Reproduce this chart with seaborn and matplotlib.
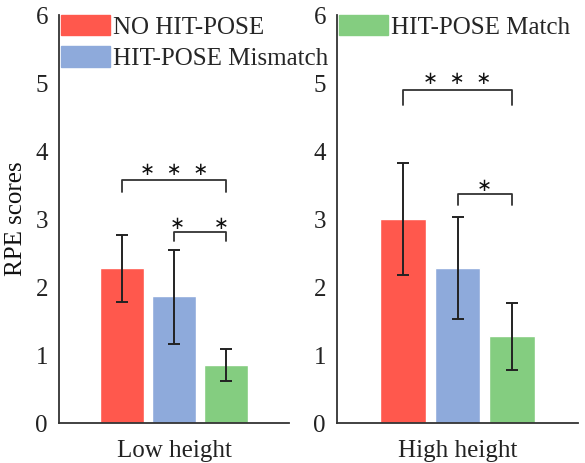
import numpy as np
import pandas as pd
import matplotlib
matplotlib.use("Agg")
import matplotlib.pyplot as plt
import seaborn as sns

groups = ["Low height", "High height"]
conditions = ["NO HIT-POSE", "HIT-POSE Mismatch", "HIT-POSE Match"]
low_means = [2.28, 1.87, 0.85]
low_lower = [1.78, 1.16, 0.62]
low_upper = [2.77, 2.55, 1.09]
high_means = [3.00, 2.28, 1.28]
high_lower = [2.18, 1.53, 0.78]
high_upper = [3.82, 3.03, 1.77]
colors = ["#FF584D", "#8EAADB", "#84CD80"]
yticks = [0, 1, 2, 3, 4, 5, 6]

sns.set_theme(style="ticks")
plt.rcParams["font.family"] = ["Liberation Serif", "DejaVu Serif"]

fig = plt.figure(figsize=(5.85, 4.63), dpi=100)
ax1 = fig.add_axes([59/585, 1-423/463, (289-59)/585, (423-15)/463])
ax2 = fig.add_axes([337/585, 1-423/463, (578-337)/585, (423-15)/463])

palette = dict(zip(conditions, colors))

def panel(ax, group, means, lower, upper, legend_conds):
    df = pd.DataFrame({"group": [group]*3, "condition": conditions, "score": means})
    sns.barplot(data=df, x="group", y="score", hue="condition", hue_order=conditions,
                palette=palette, errorbar=None, gap=0.17, ax=ax, legend=False,
                saturation=1)
    bars = sorted(ax.patches, key=lambda p: p.get_x())
    centers = [b.get_x() + b.get_width()/2 for b in bars]
    m = np.array(means)
    yerr = np.array([m - np.array(lower), np.array(upper) - m])
    ax.errorbar(centers, m, yerr=yerr, fmt="none", ecolor="#222222",
                elinewidth=1.4, capsize=4, capthick=1.4, zorder=5)
    ax.set_ylim(0, 6)
    ax.set_yticks(yticks)
    ax.set_xlim(-0.59, 0.59)
    ax.set_xlabel("")
    ax.set_ylabel("")
    sns.despine(ax=ax)
    for s in ["left", "bottom"]:
        ax.spines[s].set_color("#333333")
        ax.spines[s].set_linewidth(1.3)
    ax.tick_params(axis="both", direction="in", labelsize=18, colors="#222222",
                   length=4, width=1.2, pad=6)
    ax.tick_params(axis="x", pad=12)
    ax.tick_params(axis="y", length=0, pad=8)
    handles = [plt.Rectangle((0, 0), 1, 1, color=palette[c]) for c in legend_conds]
    ax.legend(handles, legend_conds, loc="upper left", bbox_to_anchor=(0.01, 1.0),
              frameon=False, fontsize=18, handlelength=1.95, handleheight=0.88,
              handletextpad=0.1, labelspacing=0.3, borderpad=0, borderaxespad=0)
    return centers

def bracket(ax, x0, x1, y, drop, text, ty, fs=13):
    ax.plot([x0, x0, x1, x1], [y - drop, y, y, y - drop], color="#333333", lw=1.3)
    ax.text((x0 + x1)/2, ty, text, ha="center", va="center", fontsize=fs,
            color="#111111", family=["DejaVu Sans"])

c1 = panel(ax1, groups[0], low_means, low_lower, low_upper, conditions[:2])
c2 = panel(ax2, groups[1], high_means, high_lower, high_upper, conditions[2:])

bracket(ax1, c1[0], c1[2], 3.57, 0.17, "\u2217  \u2217  \u2217", 3.72)
bracket(ax1, c1[1], c1[2], 2.81, 0.13, "\u2217     \u2217", 2.93)
bracket(ax2, c2[0], c2[2], 4.90, 0.22, "\u2217  \u2217  \u2217", 5.06)
bracket(ax2, c2[1], c2[2], 3.37, 0.17, "\u2217", 3.49)

ax1.set_ylabel("RPE scores", fontsize=18, color="#111111", labelpad=6)

fig.savefig("out.png", dpi=100)
